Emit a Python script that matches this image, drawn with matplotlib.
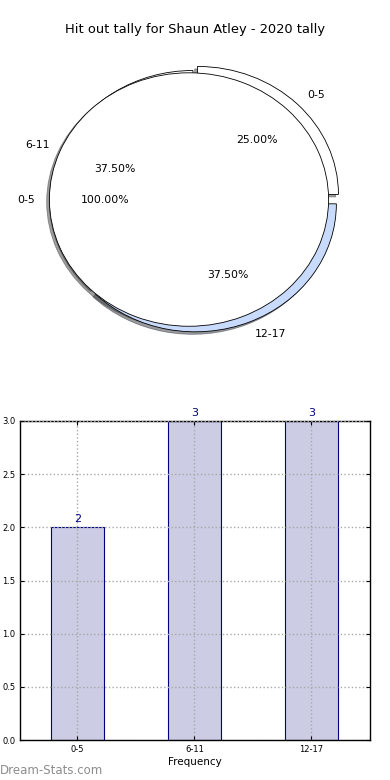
import matplotlib

matplotlib.use("Agg")
import matplotlib.pyplot as plt

title = "Hit out tally for Shaun Atley - 2020 tally"
categories = ["0-5", "6-11", "12-17"]
counts = [2, 3, 3]
inner_labels = ["0-5"]
inner_counts = [8]

fig = plt.figure(figsize=(3.9, 7.8), dpi=100)

fig.text(0.5, 1 - 30 / 780, title, ha="center", va="center", fontsize=9.4)

# pie: two pies stacked, the old-style look
shadow = {"ox": -0.014, "oy": -0.014, "shade": 0.75}
pie_ax = fig.add_axes([19.8 / 390, (780 - 352.1) / 780, 338.4 / 390, 307.2 / 780])
pie_ax.pie(
    counts,
    labels=categories,
    colors=["white", "white", "#c8dbfc"],
    explode=[0.045, 0, 0.045],
    center=(0.028, 0),
    autopct="%1.2f%%",
    shadow=shadow,
    wedgeprops={"edgecolor": "black", "linewidth": 0.6},
    textprops={"fontsize": 7.8},
)
pie_ax.pie(
    inner_counts,
    labels=inner_labels,
    colors=["white"],
    radius=0.99,
    center=(0, -0.008),
    autopct="%1.2f%%",
    shadow=shadow,
    wedgeprops={"edgecolor": "black", "linewidth": 0.6},
    textprops={"fontsize": 7.8},
)
pie_ax.set_aspect("auto")
pie_ax.set_xlim(-1.2, 1.2)
pie_ax.set_ylim(-1.2, 1.2)
pie_ax.axis("off")

# bar chart
bar_ax = fig.add_axes([20 / 390, 40 / 780, 350 / 390, 319 / 780])
positions = range(len(categories))
bars = bar_ax.bar(
    positions, counts, width=0.45,
    color="#cccce4", edgecolor="#000080", linewidth=0.8, zorder=2,
)
for bar, value in zip(bars, counts):
    bar_ax.text(
        bar.get_x() + bar.get_width() / 2, value + 0.03, str(value),
        ha="center", va="bottom", color="#000080", fontsize=8,
    )
bar_ax.set_xlim(-0.49, 2.5)
bar_ax.set_ylim(0, 3.0)
bar_ax.set_xticks(list(positions))
bar_ax.set_xticklabels(categories)
bar_ax.set_yticks([0, 0.5, 1.0, 1.5, 2.0, 2.5, 3.0])
bar_ax.tick_params(labelsize=6, direction="in", top=True, right=True, length=3)
bar_ax.grid(True, linestyle=":", color="#a8a8a8", linewidth=1.0, zorder=3)
bar_ax.set_axisbelow(False)
for spine in bar_ax.spines.values():
    spine.set_linewidth(1.0)
bar_ax.set_xlabel("Frequency", fontsize=7.5, labelpad=2)

fig.text(0, 1 - 770 / 780, "Dream-Stats.com", ha="left", va="center",
         fontsize=8.5, color="#8c8c8c")

fig.savefig("out.png", dpi=100)
